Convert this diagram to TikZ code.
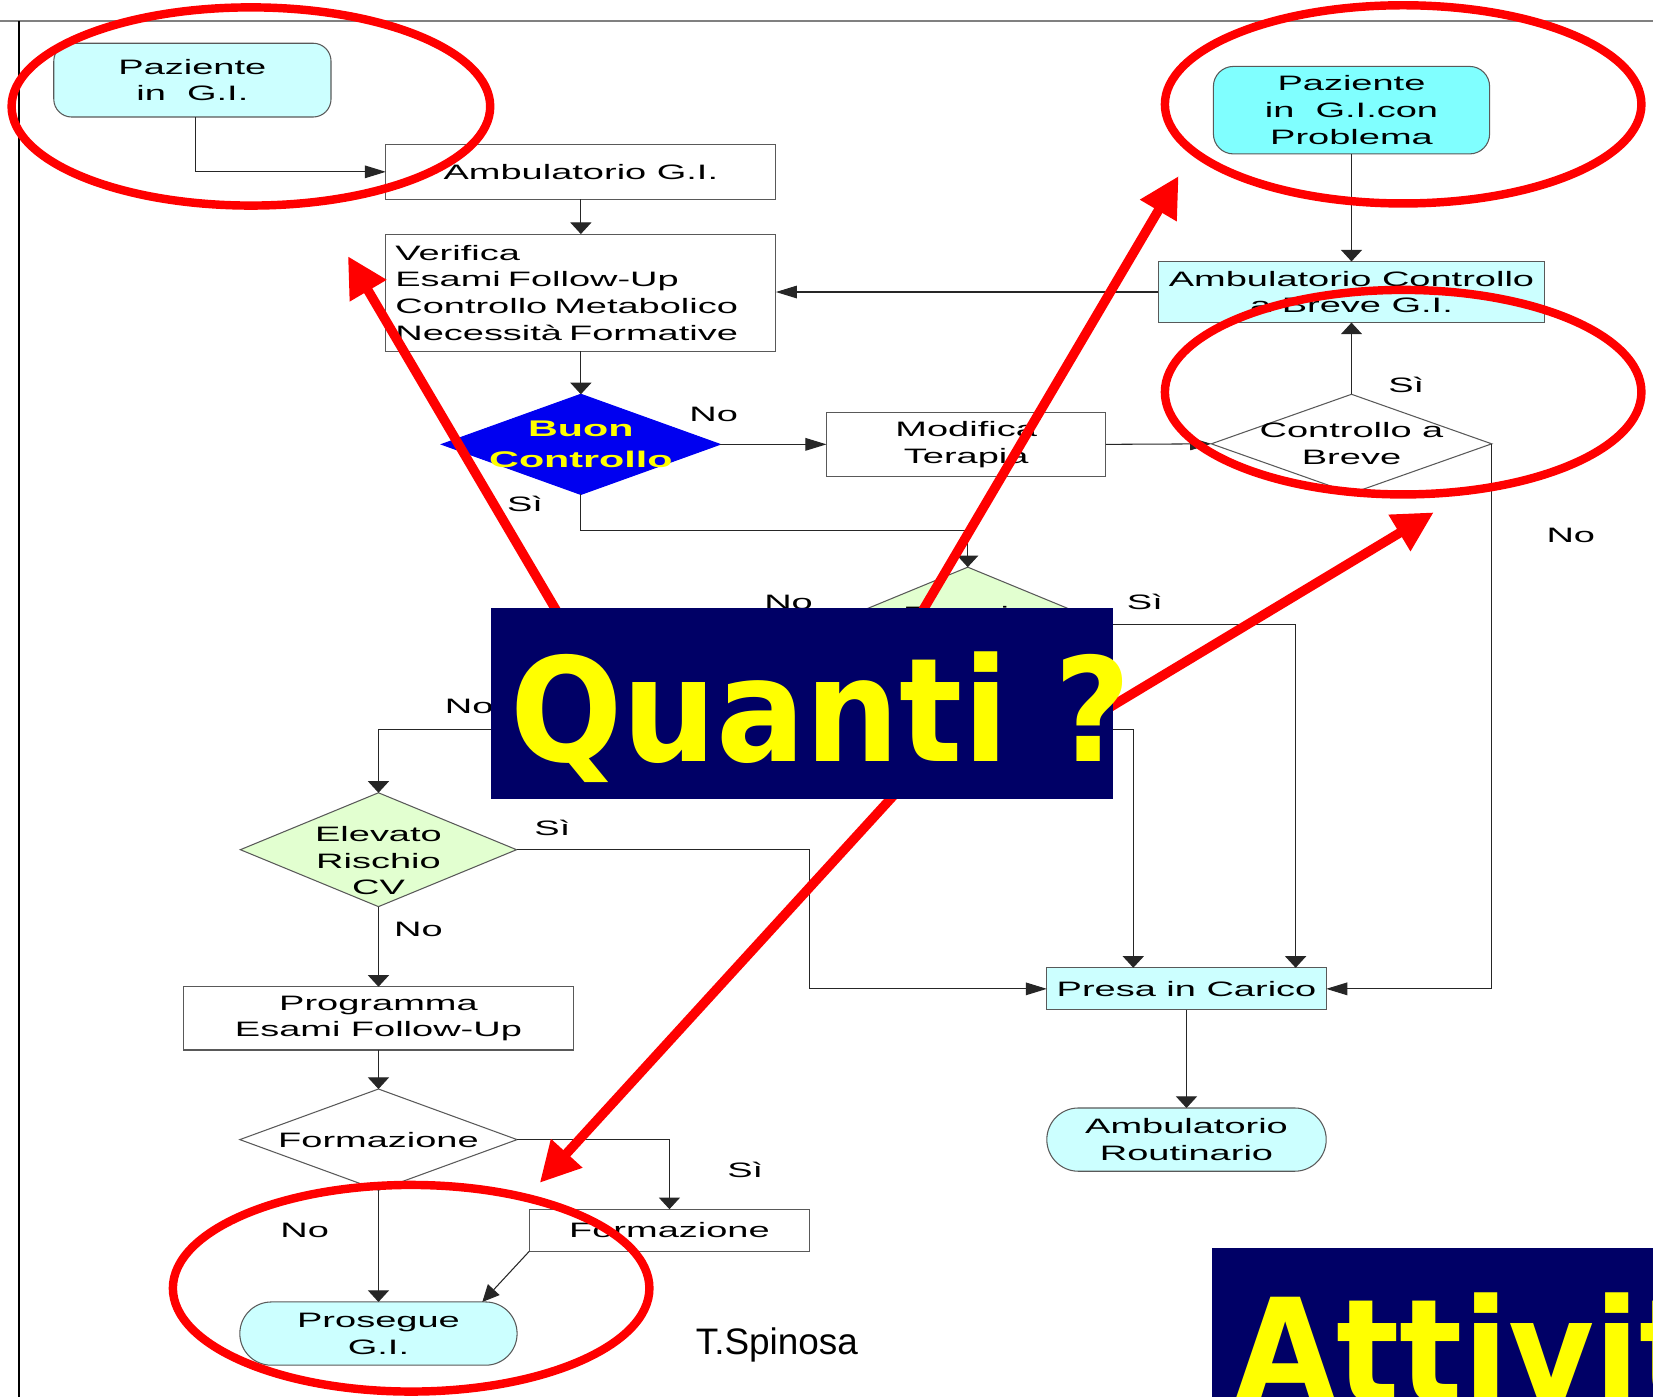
\documentclass[tikz,border=0pt]{standalone}
\usepackage{fontspec}
\usetikzlibrary{arrows.meta,shapes.geometric}
\setmainfont{Liberation Sans}
% wide face used for the flow chart texts
\newfontfamily\flowfont[FakeStretch=1.82]{Liberation Sans}
% heavy face for the two banners
\newfontfamily\bannerfont[FakeStretch=0.915]{DejaVu Sans}
\newfontfamily\signfont{Liberation Sans}

\definecolor{boxcyan}{HTML}{CCFFFF}
\definecolor{startcyan}{HTML}{80FFFF}
\definecolor{decgreen}{HTML}{E2FFD0}
\definecolor{decblue}{HTML}{0000F0}
\definecolor{bannernavy}{HTML}{000066}
\definecolor{banneryellow}{HTML}{FFFF00}
\definecolor{markred}{HTML}{FF0000}

\begin{document}
\begin{tikzpicture}[x=1pt,y=-1pt,
  every node/.style={inner sep=0pt, outer sep=0pt},
  flowtext/.style={font=\flowfont\fontsize{19.8}{25.3}\selectfont},
  proc/.style={rectangle, draw=black!65, line width=1pt, fill=white, flowtext, align=center},
  term/.style={proc},
  dec/.style={diamond, draw=black!65, line width=1pt, fill=white},
  txt/.style={flowtext, align=center},
  lab/.style={flowtext},
  conn/.style={draw=black!85, line width=1pt},
  harr/.style={-{Triangle[length=20pt,width=12pt]}},
  varr/.style={-{Triangle[length=11pt,width=20pt]}},
  darr/.style={-{Triangle[length=16pt,width=15pt]}},
  redring/.style={draw=markred, line width=8pt},
  redarrow/.style={draw=markred, line width=9pt, -{Triangle[length=38pt,width=38pt]}},
  banner/.style={rectangle, fill=bannernavy},
  bannertext/.style={font=\bannerfont\bfseries\fontsize{137}{150}\selectfont, text=banneryellow}
]
\useasboundingbox (0,0) rectangle (1568,1325);
\clip (0,0) rectangle (1568,1325);

% page rules
\draw[black!50, line width=1.3pt] (0,20) -- (1568,20);
\draw[black, line width=1.3pt] (18,20) -- (18,1325);

% ---------- flow chart nodes ----------
\node[term, fill=boxcyan, minimum width=263pt, minimum height=70pt, rounded corners=17pt] (paz1) at (182.5,76) {Paziente\\in\ \ G.I.};
\node[proc, minimum width=370pt, minimum height=52pt] (amb) at (551,163) {Ambulatorio G.I.};
\node[proc, minimum height=111pt, text width=352pt, align=left, inner xsep=9pt] (ver) at (551,277.5)
  {Verifica\\Esami Follow-Up\\Controllo Metabolico\\Necessità Formative};

\node[dec, fill=decblue, draw=decblue, minimum width=264pt, minimum height=95pt] (buon) at (551,421.5) {};
\node[txt, font=\flowfont\bfseries\fontsize{21.5}{29}\selectfont, text=banneryellow] (buon-t) at (buon) {Buon\\Controllo};

\node[proc, minimum width=265pt, minimum height=61pt] (mod) at (916.5,421.5) {Modifica\\Terapia};

\node[dec, minimum width=266pt, minimum height=94pt] (cab) at (1282,421) {};
\node[txt] (cab-t) at (cab) {Controllo a\\Breve};

\node[term, fill=startcyan, minimum width=262pt, minimum height=83pt, rounded corners=19pt] (paz2) at (1282,104.5) {Paziente\\in\ \ G.I.con\\Problema};
\node[proc, fill=boxcyan, minimum width=367pt, minimum height=58pt] (acb) at (1282,277) {Ambulatorio Controllo\\a Breve G.I.};

\node[dec, fill=decgreen, minimum width=262pt, minimum height=108pt] (ter) at (918,592) {};
\node[txt, anchor=base] (ter-t) at (918,590) {Terapia};

\node[dec, fill=decgreen, minimum width=262pt, minimum height=108pt] (elev) at (359,806) {};
\node[txt] (elev-t) at (359,816.5) {Elevato\\Rischio\\CV};

\node[proc, minimum width=370pt, minimum height=60pt] (prog) at (359,966) {Programma\\Esami Follow-Up};

\node[dec, minimum width=263pt, minimum height=96pt] (form) at (359,1081) {};
\node[txt] (form-t) at (form) {Formazione};

\node[proc, minimum width=266pt, minimum height=40pt] (formr) at (635,1167) {Formazione};
\node[term, fill=boxcyan, minimum width=263pt, minimum height=60pt, rounded corners=29.9pt] (pros) at (359,1265) {Prosegue\\G.I.};

\node[proc, fill=boxcyan, minimum width=265pt, minimum height=40pt] (presa) at (1125.5,938) {Presa in Carico};
\node[term, fill=boxcyan, minimum width=265pt, minimum height=60pt, rounded corners=29.9pt] (ambr) at (1125.5,1081) {Ambulatorio\\Routinario};

% connector waypoints
\coordinate (pinL) at (1075,918);
\coordinate (pinR) at (1229,918);
\coordinate (hidL) at (700,692);
\coordinate (hidR) at (1000,692);
\coordinate (bend) at (768,806);

% ---------- connectors ----------
\draw[conn, harr] ([xshift=2.5pt]paz1.south) |- (amb.west);
\draw[conn, varr] (amb.south) -- (ver.north);
\draw[conn, varr] (ver.south) -- (buon.north);
\draw[conn, harr] (buon.east) -- (mod.west);
\draw[conn, harr] (mod.east) -- (cab.west);
\draw[conn, varr] (cab.north) -- (acb.south);
\draw[conn, varr] (paz2.south) -- (acb.north);
\draw[conn, harr] (acb.west) -- (acb.west -| ver.east);
\draw[conn, varr] (buon.south) -- ++(0,34) -| (ter.north);
\draw[conn, harr] (cab.east) |- (presa.east);
\draw[conn, varr] (ter.east) -| (pinR);
\draw[conn, varr] (hidL) -| (elev.north);
\draw[conn, varr] (hidR) -| (pinL);
\draw[conn, harr] (elev.east) -- (bend) |- (presa.west);
\draw[conn, varr] (elev.south) -- (prog.north);
\draw[conn, varr] (prog.south) -- (form.north);
\draw[conn, varr] (form.east) -| (formr.north);
\draw[conn, varr] (form.south) -- (pros.north);
\draw[conn, darr] (formr.south west) -- ([xshift=-33pt]pros.north east);
\draw[conn, varr] (presa.south) -- (ambr.north);

% ---------- branch labels ----------
\node[lab] (l-buon-no) at (677,393) {No};
\node[lab] (l-buon-si) at (498,478) {Sì};
\node[lab] (l-cab-si) at (1334,365) {Sì};
\node[lab] (l-cab-no) at (1490,508) {No};
\node[lab] (l-ter-no) at (748,571) {No};
\node[lab] (l-ter-si) at (1086,571) {Sì};
\node[lab] (l-mid-no) at (445,670) {No};
\node[lab] (l-elev-si) at (524,785) {Sì};
\node[lab] (l-elev-no) at (397,882) {No};
\node[lab] (l-form-si) at (707,1110) {Sì};
\node[lab] (l-form-no) at (289,1167) {No};

\node[anchor=base west, font=\signfont\fontsize{35}{42}\selectfont] (sign) at (660,1285) {T.Spinosa};

% ---------- red highlights ----------
\draw[redring] (238,101) ellipse [x radius=227pt, y radius=94pt];
\draw[redring] (1331,99) ellipse [x radius=226pt, y radius=94pt];
\draw[redring] (1331,372) ellipse [x radius=226pt, y radius=97pt];
\draw[redring] (390,1222) ellipse [x radius=226pt, y radius=98pt];

\coordinate (tipA) at (330,243);
\coordinate (tipB) at (1118,167);
\coordinate (tipC) at (1360,486);
\coordinate (tipD) at (512,1122);
\coordinate (srcA) at (530,583);
\coordinate (srcB) at (873,583);
\coordinate (srcC) at (1051,672);
\coordinate (srcD) at (850,752);
\draw[redarrow] (srcA) -- (tipA);
\draw[redarrow] (srcB) -- (tipB);
\draw[redarrow] (srcC) -- (tipC);
\draw[redarrow] (srcD) -- (tipD);

% ---------- banners ----------
\node[banner, minimum width=590pt, minimum height=181pt] (quanti) at (761,667.5) {};
\node[bannertext, anchor=base west] (quanti-t) at (484,722.5) {Quanti ?};
\node[banner, minimum width=500pt, minimum height=181pt, anchor=north west] (attiv) at (1150,1184) {};
\node[bannertext, anchor=base west] (attiv-t) at (1171,1330) {Attività};
\end{tikzpicture}
\end{document}
